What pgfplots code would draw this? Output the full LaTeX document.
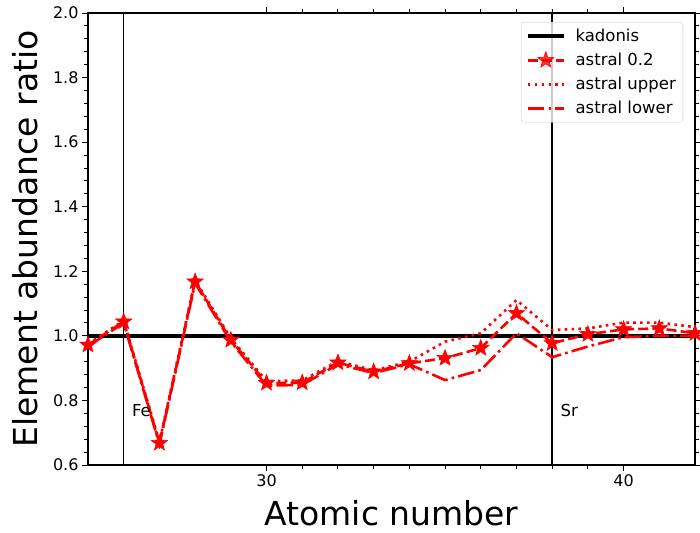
\documentclass[border=0pt]{standalone}
\usepackage{fontspec}
\setmainfont{DejaVu Sans}
\usepackage{pgfplots}
\usepackage{pgfplotstable}
\pgfplotsset{compat=1.18}

% filled five-pointed star, like matplotlib's '*'
\pgfdeclareplotmark{fstar}{%
  \pgfpathmoveto{\pgfpointpolar{90}{\pgfplotmarksize}}%
  \pgfpathlineto{\pgfpointpolar{126}{0.42\pgfplotmarksize}}%
  \pgfpathlineto{\pgfpointpolar{162}{\pgfplotmarksize}}%
  \pgfpathlineto{\pgfpointpolar{198}{0.42\pgfplotmarksize}}%
  \pgfpathlineto{\pgfpointpolar{234}{\pgfplotmarksize}}%
  \pgfpathlineto{\pgfpointpolar{270}{0.42\pgfplotmarksize}}%
  \pgfpathlineto{\pgfpointpolar{306}{\pgfplotmarksize}}%
  \pgfpathlineto{\pgfpointpolar{342}{0.42\pgfplotmarksize}}%
  \pgfpathlineto{\pgfpointpolar{18}{\pgfplotmarksize}}%
  \pgfpathlineto{\pgfpointpolar{54}{0.42\pgfplotmarksize}}%
  \pgfpathclose
  \pgfusepathqfillstroke}

\pgfplotstableread{
Z   kad  main   upper  lower
25  1.0  0.972  0.975  0.968
26  1.0  1.044  1.047  1.040
27  1.0  0.668  0.672  0.664
28  1.0  1.168  1.172  1.163
29  1.0  0.987  0.993  0.982
30  1.0  0.854  0.860  0.846
31  1.0  0.855  0.862  0.848
32  1.0  0.917  0.922  0.912
33  1.0  0.889  0.893  0.885
34  1.0  0.915  0.920  0.912
35  1.0  0.931  0.982  0.863
36  1.0  0.962  1.008  0.894
37  1.0  1.070  1.111  1.008
38  1.0  0.977  1.018  0.934
39  1.0  1.005  1.023  0.967
40  1.0  1.020  1.041  0.996
41  1.0  1.023  1.041  1.000
42  1.0  1.008  1.027  1.000
}\astral

\begin{document}
\begin{tikzpicture}
\begin{axis}[
  name=ax,
  scale only axis,
  width=607bp, height=452bp,
  xmin=25, xmax=42, ymin=0.6, ymax=2.0,
  xtick={30,40}, minor x tick num=9,
  ytick={0.6,0.8,...,2.0}, minor y tick num=4,
  tick align=outside,
  major tick length=6bp, minor tick length=3.5bp,
  tick style={black, line width=0.9bp},
  axis line style={line width=1.2bp},
  xticklabel pos=lower, yticklabel pos=left,
  /pgf/number format/assume math mode=true,
  yticklabel style={/pgf/number format/.cd, fixed, fixed zerofill, precision=1},
  ticklabel style={font=\fontsize{16bp}{18bp}\selectfont},
  xlabel={Atomic number},
  ylabel={Element abundance ratio},
  label style={font=\fontsize{33bp}{36bp}\selectfont},
  xlabel style={at={(axis description cs:0.5,0)}, anchor=base, yshift=-60bp},
  ylabel style={at={(axis description cs:-0.1038,0.5)}, anchor=center},
  legend cell align=left,
  legend style={at={(rel axis cs:1,1)}, xshift=-12bp, yshift=-9bp, anchor=north east,
    draw=gray!40, rounded corners=3bp, fill=white, fill opacity=0.8, text opacity=1,
    font=\fontsize{16.5bp}{18bp}\selectfont, row sep=6bp, inner xsep=5bp, inner ysep=5bp,
    /tikz/every odd column/.append style={column sep=8bp}},
  legend image code/.code={%
    \draw[mark repeat=2, mark phase=2, #1] plot coordinates {(0bp,0bp) (18bp,0bp) (36bp,0bp)};},
]
% element markers
\addplot[black, line width=1.4bp, forget plot] coordinates {(26,0.6) (26,2.0)};
\addplot[black, line width=1.4bp, forget plot] coordinates {(38,0.6) (38,2.0)};

\addplot[black, line width=3.5bp] table[x=Z, y=kad] {\astral};
\addlegendentry{kadonis}

\addplot[red, line width=2.6bp, dash pattern=on 10bp off 4.2bp,
  mark=fstar, mark size=8.5bp, mark options={solid, line width=0.6bp}]
  table[x=Z, y=main] {\astral};
\addlegendentry{astral 0.2}

\addplot[red, line width=2.6bp, dash pattern=on 2.6bp off 4.3bp]
  table[x=Z, y=upper] {\astral};
\addlegendentry{astral upper}

\addplot[red, line width=2.6bp, dash pattern=on 16.6bp off 4.2bp on 2.6bp off 4.2bp]
  table[x=Z, y=lower] {\astral};
\addlegendentry{astral lower}

\node[anchor=base west, inner sep=0pt, font=\fontsize{16.5bp}{18bp}\selectfont] at (axis cs:26.23,0.75) {Fe};
\node[anchor=base west, inner sep=0pt, font=\fontsize{16.5bp}{18bp}\selectfont] at (axis cs:38.23,0.75) {Sr};
\end{axis}
\pgfresetboundingbox
\path ([shift={(-88bp,-68bp)}]ax.south west) rectangle ([shift={(5bp,13bp)}]ax.north east);
\end{tikzpicture}
\end{document}
